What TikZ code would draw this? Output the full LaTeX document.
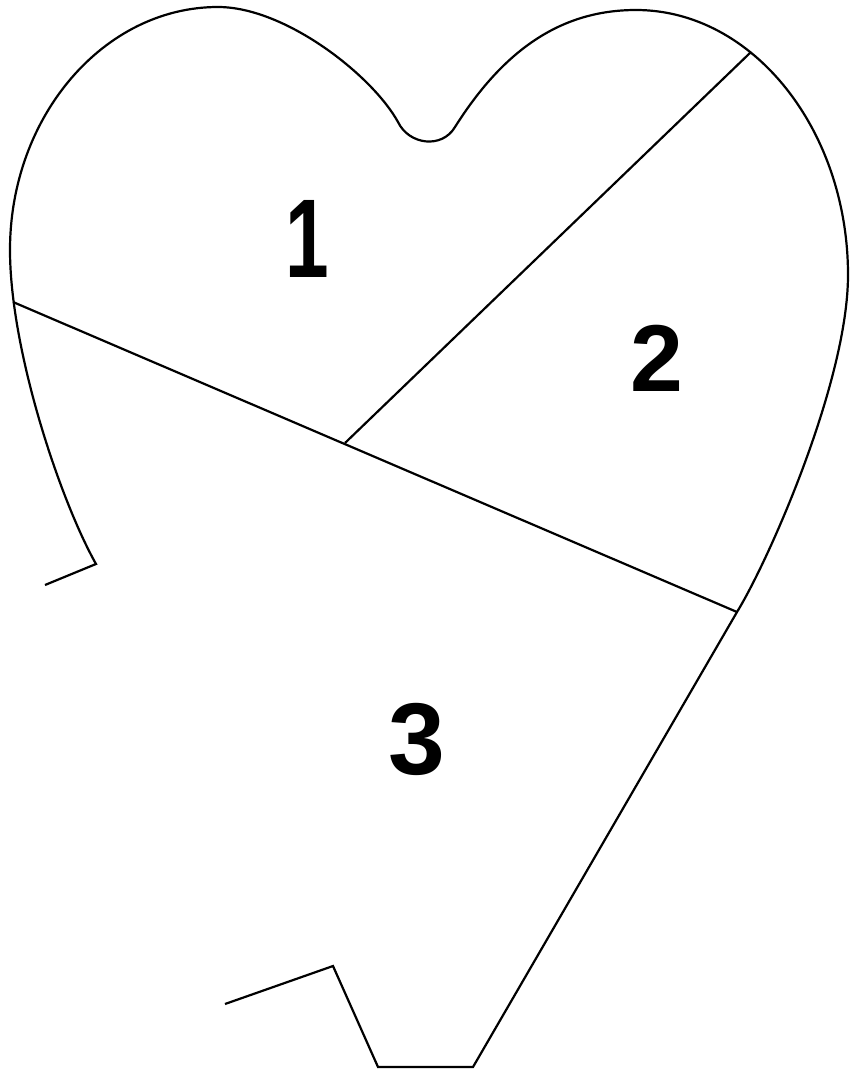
\documentclass[tikz,border=0pt]{standalone}
\usepackage{fontspec}
\setmainfont{Liberation Sans}
\begin{document}
\begin{tikzpicture}[x=1pt,y=-1pt,
  outline/.style={line width=2.2pt, line join=miter},
  divider/.style={line width=2.2pt},
  num/.style={inner sep=0pt, anchor=base, text=black}]
\useasboundingbox (0,0) rectangle (849,1071);
% key points of the outline
\coordinate (S) at (45,585);
\coordinate (C1) at (96,564);
\coordinate (W) at (10,250);
\coordinate (P1) at (218,7);
\coordinate (N1) at (398,122);
\coordinate (N2) at (455,127);
\coordinate (P2) at (636,10);
\coordinate (E) at (848,275);
\coordinate (R) at (737,612);
\coordinate (B1) at (473,1067);
\coordinate (B2) at (378,1067);
\coordinate (C2) at (333,966);
\coordinate (F) at (225,1004);
% outline of the heart shape
\draw[outline] (S) -- (C1)
  .. controls (60,500) and (10,350) .. (W)
  .. controls (10,116) and (104,7) .. (P1)
  .. controls (285,7) and (372,75) .. (N1)
  .. controls (409,145) and (442,149) .. (N2)
  .. controls (503,51) and (560,10) .. (P2)
  .. controls (753,10) and (848,130) .. (E)
  .. controls (848,380) and (770,558) .. (R)
  -- (B1) -- (B2) -- (C2) -- (F);
% division lines
\coordinate (L) at (13,302);
\coordinate (J) at (345,443);
\coordinate (T) at (751,52);
\draw[divider] (L) -- (R);
\draw[divider] (J) -- (T);
% numbers
\node[num, font=\fontsize{112}{112}\selectfont\bfseries, xscale=0.7] (n1) at (307,277) {1};
\node[num, font=\fontsize{95}{95}\selectfont\bfseries] (n2) at (657,391) {2};
\node[num, font=\fontsize{102}{102}\selectfont\bfseries] (n3) at (417,774) {3};
\end{tikzpicture}
\end{document}
